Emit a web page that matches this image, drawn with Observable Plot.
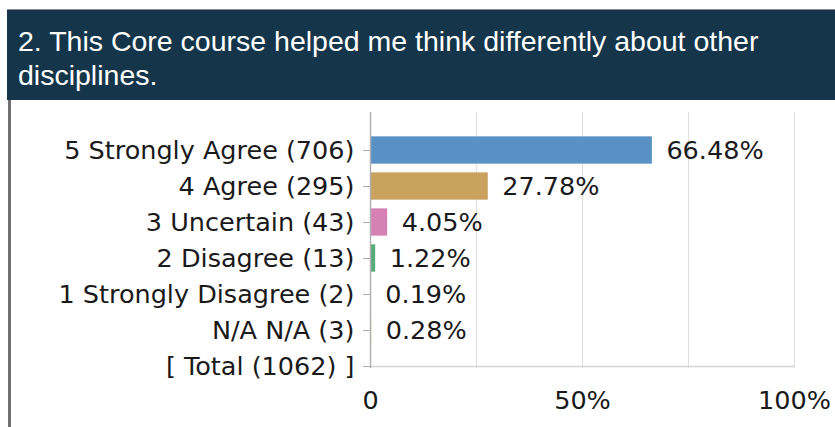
<!DOCTYPE html>
<html>
<head>
<meta charset="utf-8">
<script src="https://cdn.jsdelivr.net/npm/d3@7"></script>
<script src="https://cdn.jsdelivr.net/npm/@observablehq/plot@0.6"></script>
<style>
  html, body { margin: 0; padding: 0; background: #fff; width: 835px; height: 427px; overflow: hidden; }
  #topline { position: absolute; left: 7px; top: 9px; width: 828px; height: 1px; background: #8a8a8a; }
  #header { position: absolute; left: 7px; top: 10px; width: 828px; height: 90px; box-sizing: border-box;
    padding: 14px 0 0 11px; background: #15364a; color: #fff;
    font-family: "Liberation Sans", Arial, sans-serif; font-size: 28.5px; line-height: 34px; }
  #leftline { position: absolute; left: 8px; top: 100px; width: 3px; height: 327px; background: #707070; }
  #chart { position: absolute; left: 0; top: 100px; }
  #chart svg text { fill: #1a1a1a; }
  #chart [aria-label^="y-axis"] line, #chart [aria-label^="y-axis"] path { stroke: #b0b0b0; }
</style>
</head>
<body>
<div id="topline"></div>
<div id="header">2. This Core course helped me think differently about other disciplines.</div>
<div id="leftline"></div>
<div id="chart"></div>
<script>
const categories = [
  "5 Strongly Agree (706)",
  "4 Agree (295)",
  "3 Uncertain (43)",
  "2 Disagree (13)",
  "1 Strongly Disagree (2)",
  "N/A N/A (3)",
  "[ Total (1062) ]"
];
const percents = [66.48, 27.78, 4.05, 1.22, 0.19, 0.28];
const barColors = ["#5891c3", "#c9a260", "#d681b6", "#58ab78", "#e2b386", "#dadf7c"];
const xTicks = [0, 50, 100];
const gridTicks = [0, 25, 50, 75, 100];

const data = percents.map((p, i) => ({label: categories[i], pct: p, color: barColors[i]}));

const chart = Plot.plot({
  width: 835,
  height: 327,
  marginLeft: 370,
  marginRight: 41,
  marginTop: 12,
  marginBottom: 59,
  style: {fontFamily: "DejaVu Sans, sans-serif", fontSize: "25.5px", color: "#1a1a1a", background: "transparent"},
  x: {domain: [0, 100], ticks: xTicks, tickFormat: d => d === 0 ? "0" : d + "%", tickSize: 0, tickPadding: 22, label: null},
  y: {domain: categories, range: [30.9, 284.3], padding: 0, tickSize: 7, tickPadding: 9, label: null},
  marks: [
    Plot.ruleX(gridTicks, {stroke: "#dedede", strokeWidth: 1}),
    Plot.ruleY([categories[categories.length - 1]], {x1: 0, x2: 100, stroke: "#d4d4d4", strokeWidth: 1.5}),
    Plot.barX(data, {x: "pct", y: "label", fill: "color", insetTop: 4.35, insetBottom: 4.35}),
    Plot.ruleX([0], {stroke: "#b0b0b0", strokeWidth: 1.5}),
    Plot.text(data, {x: "pct", y: "label", text: d => d.pct.toFixed(2) + "%", dx: 14, textAnchor: "start", fontSize: 25.5, fill: "#1a1a1a"})
  ]
});
document.getElementById("chart").appendChild(chart);
</script>
</body>
</html>
